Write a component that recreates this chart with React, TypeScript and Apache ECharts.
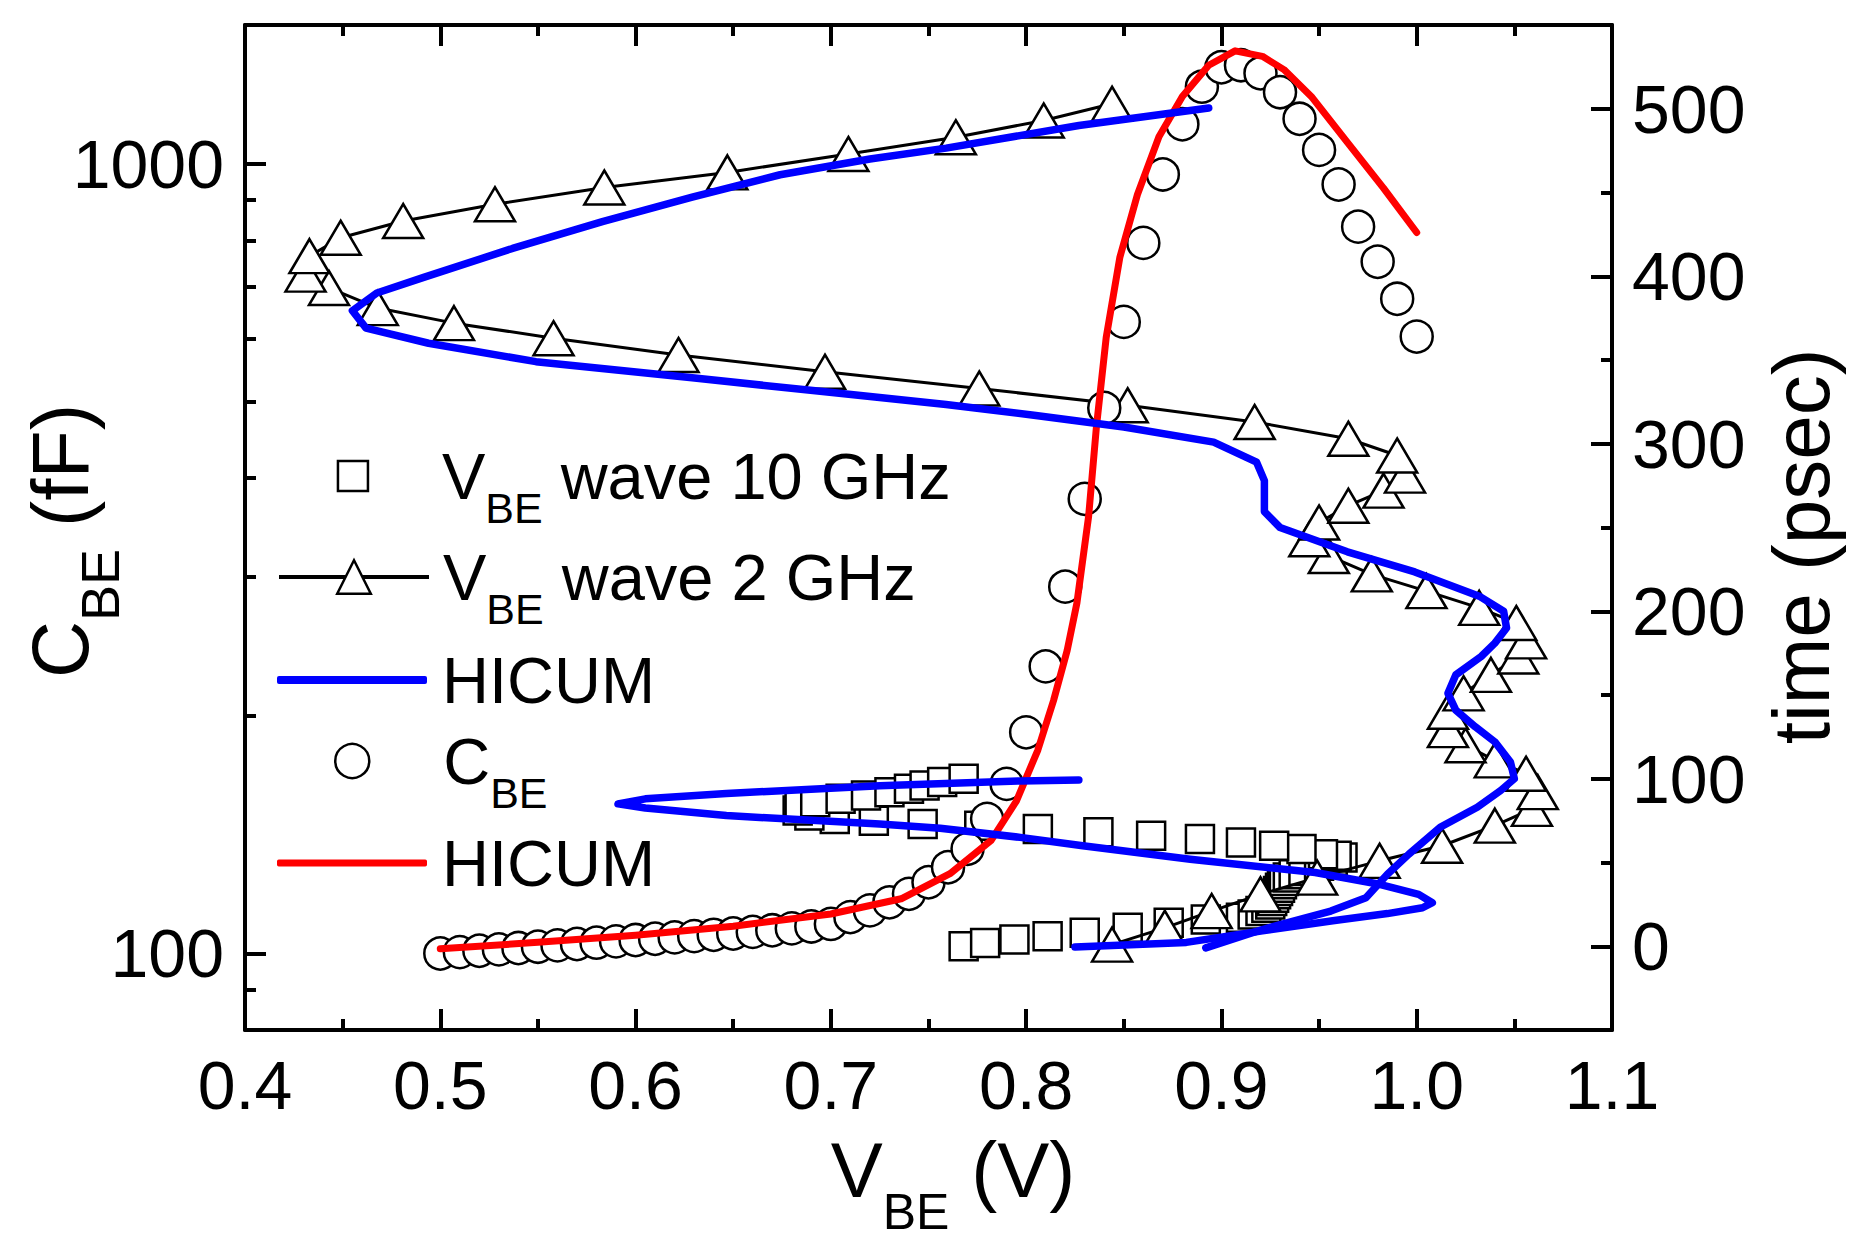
import React, { useEffect, useRef } from 'react';
import * as echarts from 'echarts';

const FONT = "'Liberation Sans', Arial, Helvetica, sans-serif";

// ---- axis ranges and ticks ----
const X_MIN = 0.4;
const X_MAX = 1.1;
const X_STEP = 0.1;
const C_MIN = 80;
const C_MAX = 1500;
const C_MAJOR = [100, 1000];
const C_MINOR = [90, 200, 300, 400, 500, 600, 700, 800, 900];
const T_MIN = -50;
const T_MAX = 550;
const T_MAJOR = [0, 100, 200, 300, 400, 500];
const T_MINOR = [50, 150, 250, 350, 450];

// ---- V_BE wave 10 GHz (squares): V_BE (V) vs time (psec) ----
const sqV = [0.768, 0.779, 0.794, 0.811, 0.830, 0.852, 0.873, 0.892, 0.910, 0.916, 0.920, 0.923, 0.925, 0.926, 0.927, 0.928, 0.929, 0.930, 0.931, 0.932, 0.934, 0.937, 0.942, 0.950, 0.957, 0.962, 0.959, 0.952, 0.941, 0.927, 0.910, 0.889, 0.864, 0.837, 0.806, 0.776, 0.747, 0.722, 0.702, 0.689, 0.683, 0.684, 0.692, 0.705, 0.718, 0.730, 0.740, 0.748, 0.757, 0.768];
const sqT = [0, 2, 4, 6, 8, 11, 14, 16, 17, 19, 21, 23, 25, 27, 29, 31, 33, 35, 37, 39, 41, 43, 45, 48, 51, 53, 54, 55, 58, 60, 62, 64, 66, 68, 70, 72, 73, 75, 76, 78, 81, 84, 86, 88, 90, 92, 94, 96, 98, 100];

// ---- V_BE wave 2 GHz (triangles): V_BE (V) vs time (psec) ----
const triV = [0.844, 0.871, 0.895, 0.920, 0.949, 0.981, 1.013, 1.040, 1.059, 1.062, 1.056, 1.040, 1.025, 1.016, 1.016, 1.024, 1.038, 1.052, 1.056, 1.051, 1.032, 1.005, 0.977, 0.955, 0.945, 0.950, 0.965, 0.983, 0.994, 0.990, 0.965, 0.917, 0.852, 0.776, 0.697, 0.622, 0.558, 0.507, 0.468, 0.443, 0.431, 0.433, 0.449, 0.481, 0.528, 0.584, 0.647, 0.709, 0.764, 0.809, 0.844];
const triT = [1, 11, 21, 31, 41, 51, 60, 72, 82, 92, 103, 111, 120, 129, 140, 151, 162, 173, 182, 193, 202, 212, 222, 233, 243, 253, 263, 272, 281, 293, 303, 313, 323, 333, 343, 353, 363, 372, 381, 393, 401, 412, 423, 433, 443, 453, 462, 473, 483, 493, 503];

// ---- HICUM V_BE waveform, 10 GHz ----
const blue10V = [0.825, 0.882, 0.921, 0.957, 0.985, 1.003, 1.008, 1.001, 0.981, 0.948, 0.884, 0.829, 0.797, 0.756, 0.725, 0.6465, 0.605, 0.591, 0.605, 0.6465, 0.725, 0.797, 0.827];
const blue10T = [-0.5, 2.3, 9.2, 15.2, 19.5, 23, 26, 31, 37, 44, 52, 60, 65, 70.5, 73, 78, 82.5, 85, 88, 91.2, 95.8, 98.7, 99.3];

// ---- HICUM V_BE waveform, 2 GHz ----
const blue2V = [0.892, 0.921, 0.956, 0.974, 0.985, 0.996, 1.012, 1.031, 1.043, 1.050, 1.048, 1.040, 1.030, 1.020, 1.016, 1.020, 1.033, 1.040, 1.046, 1.0445, 1.032, 0.999, 0.9645, 0.930, 0.922, 0.922, 0.918, 0.896, 0.850, 0.804, 0.759, 0.697, 0.629, 0.549, 0.494, 0.462, 0.455, 0.4675, 0.4915, 0.537, 0.583, 0.629, 0.674, 0.720, 0.759, 0.827, 0.8935];
const blue2T = [-1, 10, 21, 29, 43, 55, 71, 83, 93, 100, 110, 122, 131, 141, 151, 162, 173, 181, 190, 200, 209, 223.5, 235.5, 250, 259.5, 278, 289, 301, 310, 317, 323.4, 331, 339.4, 349, 360, 369, 379.4, 390, 399.3, 416.6, 432.6, 447.3, 460.6, 470, 476.5, 490, 500.5];

// ---- C_BE (circles): V_BE (V) vs C_BE (fF) ----
const cV = [0.50, 0.51, 0.52, 0.53, 0.54, 0.55, 0.56, 0.57, 0.58, 0.59, 0.60, 0.61, 0.62, 0.63, 0.64, 0.65, 0.66, 0.67, 0.68, 0.69, 0.70, 0.71, 0.72, 0.73, 0.74, 0.75, 0.76, 0.77, 0.78, 0.79, 0.80, 0.81, 0.82, 0.83, 0.84, 0.85, 0.86, 0.87, 0.88, 0.89, 0.90, 0.91, 0.92, 0.93, 0.94, 0.95, 0.96, 0.97, 0.98, 0.99, 1.00];
const cC = [100.0, 100.4, 100.8, 101.2, 101.6, 102.0, 102.4, 102.8, 103.2, 103.6, 104.0, 104.4, 104.8, 105.2, 105.6, 106.0, 106.5, 107.0, 107.6, 108.2, 109.0, 111.2, 113.4, 116.1, 119.0, 123.1, 128.6, 135.7, 148.1, 164.0, 190.6, 231.0, 291.5, 376.6, 491.0, 631.0, 794.5, 970.0, 1123, 1253, 1326, 1334, 1303, 1233, 1141, 1042, 942, 833, 752, 675, 604.5];

// ---- HICUM C_BE model ----
const redV = [0.500, 0.550, 0.600, 0.650, 0.700, 0.736, 0.761, 0.782, 0.795, 0.806, 0.814, 0.821, 0.826, 0.832, 0.836, 0.841, 0.848, 0.857, 0.868, 0.880, 0.8935, 0.907, 0.921, 0.932, 0.946, 0.964, 0.983, 1.000];
const redC = [101.4, 103.3, 105.5, 108.3, 112.2, 117.3, 126.2, 139, 156, 181, 209, 242, 278, 358, 465, 603, 762, 915, 1083, 1218, 1334, 1391, 1369, 1317, 1218, 1069, 932, 819];

const zip = (a: number[], b: number[]) => a.map((v, i) => [v, b[i]]);

const BLACK = '#000000';
const AXIS_W = 4;

const legendRich = (pad: number) => ({
  p: { fontFamily: FONT, fontSize: 65, lineHeight: 65, color: BLACK, padding: [0, 0, 0, pad] },
  n: { fontFamily: FONT, fontSize: 65, lineHeight: 65, color: BLACK, padding: [0, 0, 0, 18] },
  s: { fontFamily: FONT, fontSize: 43, lineHeight: 10, color: BLACK, padding: [64, 0, 0, 0] },
});

const xCommon: any = {
  type: 'value',
  min: X_MIN,
  max: X_MAX,
  interval: X_STEP,
  axisLine: { show: true, onZero: false, lineStyle: { color: BLACK, width: AXIS_W } },
  axisTick: { show: true, inside: true, length: 21, lineStyle: { color: BLACK, width: AXIS_W } },
  minorTick: { show: true, splitNumber: 2, length: 11, lineStyle: { color: BLACK, width: AXIS_W } },
  splitLine: { show: false },
  minorSplitLine: { show: false },
};

const tickLabel = { fontFamily: FONT, fontSize: 68, color: BLACK };

const option: any = {
  animation: false,
  backgroundColor: '#ffffff',
  grid: { left: 245, top: 25, width: 1367, height: 1005, containLabel: false, outerBoundsMode: 'none' },
  xAxis: [
    {
      ...xCommon,
      position: 'bottom',
      axisLabel: { ...tickLabel, margin: 21, formatter: (v: number) => v.toFixed(1) },
      name: '{a|V}{b|BE}{m|(V)}',
      nameLocation: 'middle',
      nameGap: 101,
      nameMoveOverlap: false,
      nameTextStyle: {
        fontFamily: FONT,
        color: BLACK,
        rich: {
          a: { fontFamily: FONT, fontSize: 78, lineHeight: 78, color: BLACK, padding: [0, 0, 0, 49] },
          b: { fontFamily: FONT, fontSize: 50, lineHeight: 10, color: BLACK, padding: [83, 0, 0, 0] },
          m: { fontFamily: FONT, fontSize: 78, lineHeight: 78, color: BLACK, padding: [0, 0, 0, 22] },
        },
      },
    },
    { ...xCommon, position: 'top', axisLabel: { show: false } },
  ],
  yAxis: [
    {
      type: 'log',
      logBase: 10,
      min: C_MIN,
      max: C_MAX,
      position: 'left',
      axisLine: { show: true, onZero: false, lineStyle: { color: BLACK, width: AXIS_W } },
      axisTick: { show: false },
      axisLabel: { show: false },
      minorTick: { show: false },
      splitLine: { show: false },
      name: '{c|C}{s|BE}{e|(fF)}',
      nameLocation: 'middle',
      nameGap: 145,
      nameRotate: 90,
      nameMoveOverlap: false,
      nameTextStyle: {
        fontFamily: FONT,
        color: BLACK,
        rich: {
          c: { fontFamily: FONT, fontSize: 79, lineHeight: 79, color: BLACK },
          s: { fontFamily: FONT, fontSize: 54, lineHeight: 10, color: BLACK, padding: [79, 0, 0, 0] },
          e: { fontFamily: FONT, fontSize: 79, lineHeight: 79, color: BLACK, padding: [0, 27, 0, 22] },
        },
      },
    },
    {
      type: 'value',
      min: T_MIN,
      max: T_MAX,
      interval: 50,
      position: 'right',
      axisLine: { show: true, onZero: false, lineStyle: { color: BLACK, width: AXIS_W } },
      axisTick: { show: true, inside: true, length: 21, customValues: T_MAJOR, lineStyle: { color: BLACK, width: AXIS_W } },
      axisLabel: { ...tickLabel, margin: 20, customValues: T_MAJOR },
      splitLine: { show: false },
      name: '{t|time (psec)}',
      nameLocation: 'middle',
      nameGap: 149,
      nameRotate: 90,
      nameMoveOverlap: false,
      nameTextStyle: {
        fontFamily: FONT,
        color: BLACK,
        rich: { t: { fontFamily: FONT, fontSize: 80, lineHeight: 80, color: BLACK, padding: [0, 38, 0, 0] } },
      },
    },
    {
      type: 'value',
      min: Math.log10(C_MIN),
      max: Math.log10(C_MAX),
      position: 'left',
      axisLine: { show: false, onZero: false },
      axisTick: { show: true, inside: true, length: 21, customValues: C_MAJOR.map(Math.log10), lineStyle: { color: BLACK, width: AXIS_W } },
      axisLabel: {
        ...tickLabel,
        margin: 21,
        customValues: C_MAJOR.map(Math.log10),
        formatter: (v: number) => String(Math.round(Math.pow(10, v))),
      },
      splitLine: { show: false },
    },
    {
      type: 'value',
      min: Math.log10(C_MIN),
      max: Math.log10(C_MAX),
      position: 'left',
      axisLine: { show: false, onZero: false },
      axisTick: { show: true, inside: true, length: 11, customValues: C_MINOR.map(Math.log10), lineStyle: { color: BLACK, width: AXIS_W } },
      axisLabel: { show: false },
      splitLine: { show: false },
    },
    {
      type: 'value',
      min: T_MIN,
      max: T_MAX,
      position: 'right',
      axisLine: { show: false, onZero: false },
      axisTick: { show: true, inside: true, length: 11, customValues: T_MINOR, lineStyle: { color: BLACK, width: AXIS_W } },
      axisLabel: { show: false },
      splitLine: { show: false },
    },
  ],
  legend: [
    {
      data: ['sq'], left: 336.7, top: 422.5, itemWidth: 30, itemHeight: 30, padding: 0, selectedMode: false,
      itemStyle: { borderWidth: 2.5 },
      formatter: () => '{p|V}{s|BE}{n|wave 10 GHz}',
      textStyle: { color: BLACK, fontFamily: FONT, fontSize: 65, rich: legendRich(69) },
    },
    {
      data: ['tri'], left: 277, top: 523.5, itemWidth: 150, itemHeight: 42, padding: 0, selectedMode: false,
      itemStyle: { borderWidth: 2.5 },
      lineStyle: { width: 4 },
      formatter: () => '{p|V}{s|BE}{n|wave 2 GHz}',
      textStyle: { color: BLACK, fontFamily: FONT, fontSize: 65, rich: legendRich(9) },
    },
    {
      data: ['HICUM_V'], left: 277, top: 647.5, itemWidth: 150, itemHeight: 8, padding: 0, selectedMode: false,
      icon: 'roundRect', itemStyle: { borderWidth: 0 },
      formatter: () => '{p|HICUM}',
      textStyle: { color: BLACK, fontFamily: FONT, fontSize: 65, rich: legendRich(10) },
    },
    {
      data: ['cbe'], left: 334, top: 707.5, itemWidth: 34, itemHeight: 34, padding: 0, selectedMode: false,
      itemStyle: { borderWidth: 2.5 },
      formatter: () => '{p|C}{s|BE}',
      textStyle: { color: BLACK, fontFamily: FONT, fontSize: 65, rich: legendRich(69) },
    },
    {
      data: ['HICUM_C'], left: 277, top: 830.5, itemWidth: 150, itemHeight: 7, padding: 0, selectedMode: false,
      icon: 'roundRect', itemStyle: { borderWidth: 0 },
      formatter: () => '{p|HICUM}',
      textStyle: { color: BLACK, fontFamily: FONT, fontSize: 65, rich: legendRich(10) },
    },
  ],
  series: [
    {
      name: 'sq',
      type: 'scatter',
      xAxisIndex: 0,
      yAxisIndex: 1,
      symbol: 'rect',
      symbolSize: 28,
      itemStyle: { color: '#ffffff', borderColor: BLACK, borderWidth: 2.5, opacity: 1 },
      data: zip(sqV, sqT),
      z: 2,
    },
    {
      name: 'tri',
      type: 'line',
      xAxisIndex: 0,
      yAxisIndex: 1,
      symbol: 'triangle',
      symbolSize: [40, 34],
      showSymbol: true,
      showAllSymbol: true,
      color: '#ffffff',
      lineStyle: { color: BLACK, width: 3 },
      itemStyle: { color: '#ffffff', borderColor: BLACK, borderWidth: 2.5 },
      data: zip(triV, triT),
      z: 3,
    },
    {
      name: 'cbe',
      type: 'scatter',
      xAxisIndex: 0,
      yAxisIndex: 0,
      symbol: 'circle',
      symbolSize: 32,
      itemStyle: { color: '#ffffff', borderColor: BLACK, borderWidth: 2.5, opacity: 1 },
      data: zip(cV, cC),
      z: 4,
    },
    {
      name: 'HICUM_C',
      type: 'line',
      xAxisIndex: 0,
      yAxisIndex: 0,
      symbol: 'none',
      showSymbol: false,
      color: '#ff0000',
      lineStyle: { color: '#ff0000', width: 7, cap: 'round', join: 'round' },
      data: zip(redV, redC),
      z: 5,
    },
    {
      name: 'HICUM_V',
      type: 'line',
      xAxisIndex: 0,
      yAxisIndex: 1,
      symbol: 'none',
      showSymbol: false,
      color: '#0000ff',
      lineStyle: { color: '#0000ff', width: 7.5, cap: 'round', join: 'round' },
      data: zip(blue10V, blue10T),
      z: 6,
    },
    {
      name: 'HICUM_V',
      type: 'line',
      xAxisIndex: 0,
      yAxisIndex: 1,
      symbol: 'none',
      showSymbol: false,
      color: '#0000ff',
      lineStyle: { color: '#0000ff', width: 7.5, cap: 'round', join: 'round' },
      data: zip(blue2V, blue2T),
      z: 6,
    },
  ],
};

export default function App() {
  const ref = useRef<HTMLDivElement>(null);
  useEffect(() => {
    if (!ref.current) return;
    const chart = echarts.init(ref.current, undefined, { renderer: 'svg', width: 1866, height: 1247 });
    chart.setOption(option);
    return () => chart.dispose();
  }, []);
  return (
    <div
      ref={ref}
      style={{ position: 'fixed', left: 0, top: 0, width: 1866, height: 1247, background: '#ffffff' }}
    />
  );
}
